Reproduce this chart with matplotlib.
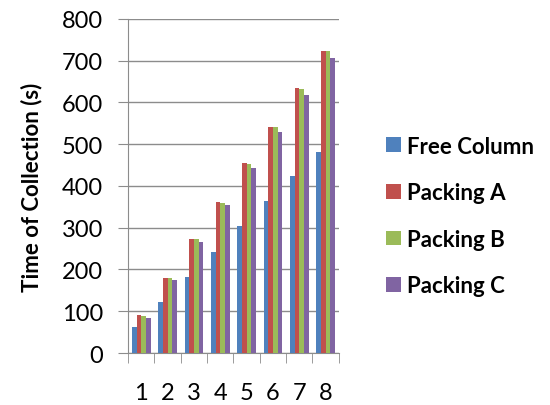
import numpy as np
import matplotlib
matplotlib.use("Agg")
import matplotlib.pyplot as plt

# data
categories = ["1", "2", "3", "4", "5", "6", "7", "8"]
free_column = [62, 123, 181, 242, 303, 365, 423, 481]
packing_a = [90, 180, 273, 361, 454, 542, 634, 723]
packing_b = [89, 179, 272, 360, 453, 540, 632, 722]
packing_c = [85, 174, 266, 354, 442, 530, 618, 707]
series_names = ["Free Column", "Packing A", "Packing B", "Packing C"]
colors = ["#4F81BD", "#C0504D", "#9BBB59", "#8064A2"]

plt.rcParams['font.family'] = ['Lato', 'DejaVu Sans']

fig = plt.figure(figsize=(5.5, 4.06), dpi=100)
ax = fig.add_axes([0.233, 0.128, 0.383, 0.823])

x = np.arange(len(categories))
width = 0.177
all_series = [free_column, packing_a, packing_b, packing_c]
for i, (vals, name, c) in enumerate(zip(all_series, series_names, colors)):
    ax.bar(x + (i - 1.5) * width, vals, width, color=c, label=name, zorder=3)

ax.set_xlim(-0.5, len(categories) - 0.5)
ax.set_ylim(0, 800)
ax.set_yticks(range(0, 801, 100))
ax.yaxis.grid(True, color="#8c8c8c", linewidth=1.0, zorder=0)

# category labels between tick marks, like Excel
ax.set_xticks(x)
ax.set_xticklabels(categories, fontsize=17)
ax.set_xticks(np.arange(-0.5, len(categories)), minor=True)
ax.tick_params(axis="x", which="major", length=0, pad=21)
ax.tick_params(axis="x", which="minor", length=7, color="#8c8c8c")
ax.tick_params(axis="y", length=7, color="#8c8c8c", labelsize=17, pad=11)

for side in ["top", "right"]:
    ax.spines[side].set_visible(False)
for side in ["left", "bottom"]:
    ax.spines[side].set_color("#8c8c8c")

ax.set_ylabel("Time of Collection (s)", fontsize=16, fontweight="bold", labelpad=14)

ax.legend(loc="center left", bbox_to_anchor=(1.13, 0.41), frameon=False,
          prop={"size": 16, "weight": "bold"}, handlelength=0.65,
          handleheight=0.65, labelspacing=1.15, handletextpad=0.3)

fig.savefig("out.png", dpi=100)
